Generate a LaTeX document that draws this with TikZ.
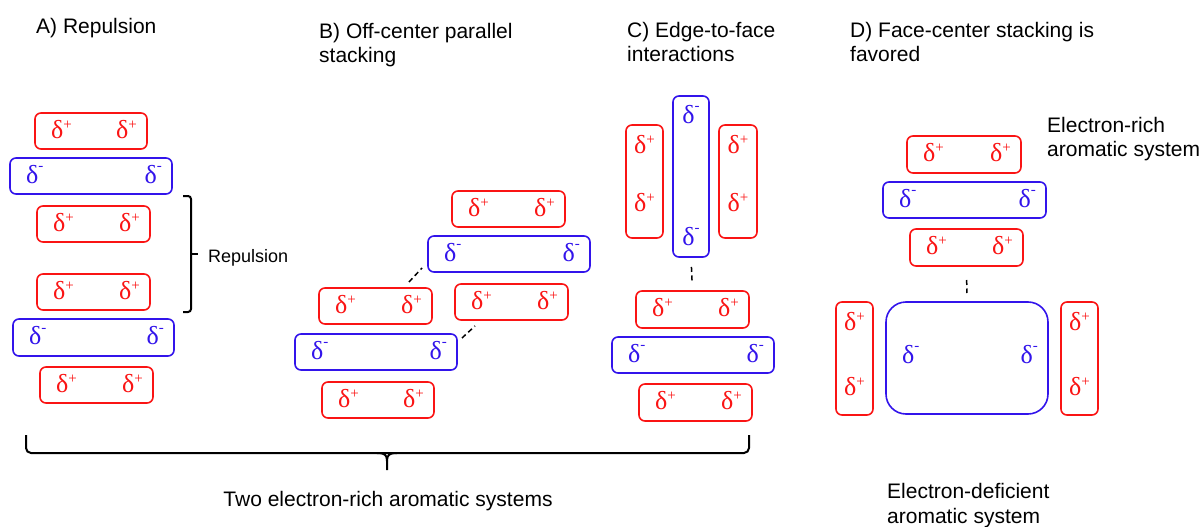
\documentclass[tikz,border=0pt]{standalone}
\usepackage{fontspec}
\setmainfont{Liberation Sans}
\newfontfamily\serifd{Liberation Serif}
\usetikzlibrary{fit,calc}
\definecolor{pr}{RGB}{250,20,20}
\definecolor{pb}{RGB}{50,20,235}
\newcommand\dpl{δ\raisebox{9pt}{\fontsize{15}{15}\selectfont +}}
\newcommand\dmi{δ\raisebox{12.5pt}{\fontsize{15}{15}\selectfont -}}
\tikzset{
  boxr/.style={draw=pr, line width=1.6pt, rounded corners=6pt, inner sep=0pt, outer sep=0pt},
  boxb/.style={draw=pb, line width=1.6pt, rounded corners=6pt, inner sep=0pt, outer sep=0pt},
  labr/.style={text=pr, inner sep=0pt, font=\serifd\fontsize{26}{26}\selectfont},
  labb/.style={text=pb, inner sep=0pt, font=\serifd\fontsize{26}{26}\selectfont},
  ttl/.style={anchor=base west, align=left, inner sep=0pt, font=\fontsize{21}{24.5}\selectfont},
  brk/.style={draw=black, line width=2pt},
  dashline/.style={draw=black, line width=1.5pt, dash pattern=on 5pt off 3.5pt}
}
% horizontal ring: name, x1, y1, x2, y2, colour key, sign
\newcommand\hbx[7]{%
  \node[box#6, fit={(#2,#3) (#4,#5)}] (#1) {};
  \node[lab#6, anchor=base west] (#1l) at ($(#1.west)+(16,7)$) {#7};
  \node[lab#6, anchor=base east] (#1r) at ($(#1.east)+(-10,7)$) {#7};}
% vertical ring: name, x1, y1, x2, y2, colour key, sign, top offset, bottom offset
\newcommand\vbx[9]{%
  \node[box#6, fit={(#2,#3) (#4,#5)}] (#1) {};
  \node[lab#6, anchor=base] (#1t) at ($(#1.north)+(0,#8)$) {#7};
  \node[lab#6, anchor=base] (#1b) at ($(#1.south)+(0,-#9)$) {#7};}
\begin{document}
\begin{tikzpicture}[x=1pt,y=-1pt]
\useasboundingbox (0,0) rectangle (1203,527);
% titles
\node[ttl] (ta) at (36,34) {A) Repulsion};
\node[ttl] (tb) at (319,63) {B) Off-center parallel\\stacking};
\node[ttl] (tc) at (627,62) {C) Edge-to-face\\interactions};
\node[ttl] (td) at (850,62) {D) Face-center stacking is\\favored};
% A
\hbx{a1}{35}{113}{147}{149}{r}{\dpl}
\hbx{a2}{10}{158}{172}{194}{b}{\dmi}
\hbx{a3}{37}{206}{150}{242}{r}{\dpl}
\hbx{a4}{37}{274}{150}{310}{r}{\dpl}
\hbx{a5}{13}{319}{174}{356}{b}{\dmi}
\hbx{a6}{40}{367}{153}{403}{r}{\dpl}
\draw[brk, rounded corners=3pt] (183,196) -- (191,196) -- (191,312) -- (183,312);
\coordinate (rtip) at (198,254);
\draw[brk] (191,254) -- (rtip);
\node[ttl, font=\fontsize{18}{21}\selectfont] (rep) at (208,262) {Repulsion};
% B
\hbx{b1}{452}{191}{565}{227}{r}{\dpl}
\hbx{b2}{428}{236}{590}{272}{b}{\dmi}
\hbx{b3}{319}{288}{432}{324}{r}{\dpl}
\hbx{b4}{455}{284}{568}{320}{r}{\dpl}
\hbx{b5}{295}{334}{457}{370}{b}{\dmi}
\hbx{b6}{322}{382}{434}{418}{r}{\dpl}
\coordinate (ba1) at ($(b3.north east)+(-23,-6)$);
\coordinate (ba2) at ($(b2.south west)+(-6,-4)$);
\draw[dashline] (ba1) -- (ba2);
\coordinate (bb1) at ($(b5.north east)+(5,4)$);
\coordinate (bb2) at ($(b4.south west)+(20,6)$);
\draw[dashline] (bb1) -- (bb2);
% C
\vbx{c1}{626}{125}{663}{238}{r}{\dpl}{28}{27}
\vbx{c2}{673}{96}{709}{257}{b}{\dmi}{27}{12}
\vbx{c3}{719}{125}{757}{238}{r}{\dpl}{28}{27}
\hbx{c4}{636}{291}{749}{328}{r}{\dpl}
\hbx{c5}{612}{337}{774}{373}{b}{\dmi}
\hbx{c6}{639}{384}{752}{421}{r}{\dpl}
\draw[dashline, shorten <=10pt, shorten >=8pt] (c2.south) -- (c4.north);
% D
\hbx{d1}{907}{136}{1021}{173}{r}{\dpl}
\hbx{d2}{883}{182}{1046}{218}{b}{\dmi}
\hbx{d3}{910}{229}{1023}{266}{r}{\dpl}
\vbx{d4}{836}{302}{873}{415}{r}{\dpl}{28}{20}
\vbx{d6}{1061}{302}{1098}{415}{r}{\dpl}{28}{20}
\node[boxb, rounded corners=20pt, fit={(886,302) (1048,414)}] (d5) {};
\node[labb, anchor=base west] (d5l) at ($(d5.west)+(16,5)$) {\dmi};
\node[labb, anchor=base east] (d5r) at ($(d5.east)+(-10,5)$) {\dmi};
\draw[dashline, shorten <=14pt, shorten >=9pt] (d3.south) -- (d5.north);
\node[ttl] (rich) at (1047,157) {Electron-rich\\aromatic system};
\node[ttl] (defi) at (887,523) {Electron-deficient\\aromatic system};
% bottom bracket
\draw[brk, rounded corners=5pt] (26,435) -- (26,453) -- (749,453) -- (749,435);
\coordinate (btip) at (387,470);
\draw[brk] (377,453) .. controls (385,453) and (387,455) .. (387,461) -- (btip);
\draw[brk] (397,453) .. controls (389,453) and (387,455) .. (387,461);
\node[ttl, anchor=base] (two) at (388,506) {Two electron-rich aromatic systems};
\end{tikzpicture}
\end{document}
